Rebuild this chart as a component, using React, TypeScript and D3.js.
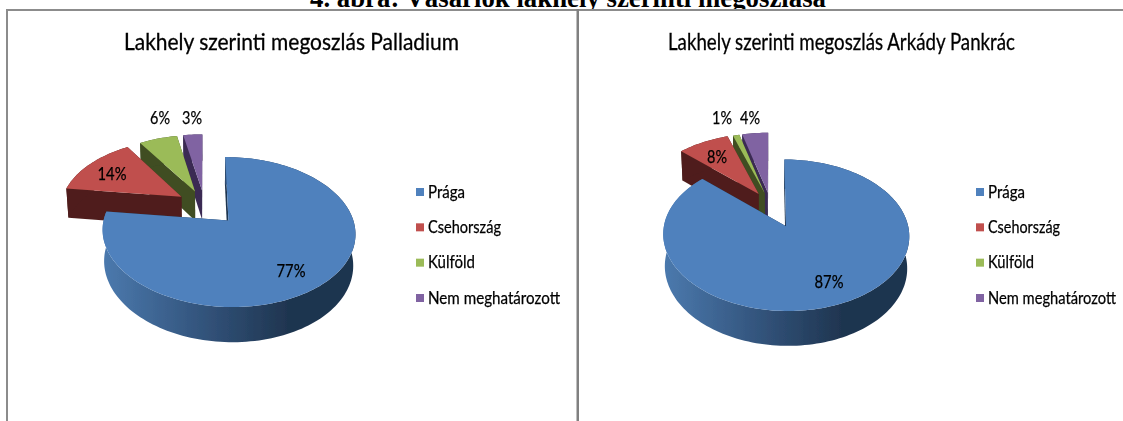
import React from "react";
import * as d3 from "d3";

const categories = ["Prága", "Csehország", "Külföld", "Nem meghatározott"];
const palladiumValues = [77, 14, 6, 3];
const arkadyValues = [87, 8, 1, 4];
const heading = "4. ábra: Vásárlók lakhely szerinti megoszlása";
const palladiumTitle = "Lakhely szerinti megoszlás Palladium";
const arkadyTitle = "Lakhely szerinti megoszlás Arkády Pankrác";

const topColors = d3.scaleOrdinal<string, string>().domain(categories).range(["#4f81bd", "#c0504d", "#9bbb59", "#8064a2"]);
const sideColors = d3.scaleOrdinal<string, string>().domain(categories).range(["#1f3550", "#4f1f1d", "#3f4d22", "#3a2b53"]);
const UI = "Lato, 'Open Sans', sans-serif";

type Geo = {
  id: string; cx: number; cy: number; rx: number; ry: number; k: number; depth: number; explode: number[];
  gx: [number, number];
};

function Pie3D({ values, geo, labels }: { values: number[]; geo: Geo; labels: [number, number][] }) {
  const arcs = d3.pie<number>().sort(null).value((d) => d)(values);
  const sx = d3.scaleLinear().domain([-1, 1]).range([-geo.rx, geo.rx]);
  const sz = d3.scaleLinear().domain([-1, 1]).range([-geo.ry, geo.ry]);
  const project = (x: number, z: number, low: boolean): [number, number] => {
    const s = 1 / (1 - geo.k * z);
    const shrink = low ? 0.985 : 1;
    return [geo.cx + sx(x) * s * shrink, geo.cy + sz(z) * s * shrink + (low ? geo.depth * s : 0)];
  };
  const line = d3.line();
  const slices = arcs.map((a, i) => {
    const mid = (a.startAngle + a.endAngle) / 2;
    const ox = geo.explode[i] * Math.sin(mid);
    const oz = -geo.explode[i] * Math.cos(mid);
    const steps = Math.max(4, Math.ceil((a.endAngle - a.startAngle) / 0.03));
    const angles = d3.range(steps + 1).map((j) => a.startAngle + ((a.endAngle - a.startAngle) * j) / steps);
    const rim = (low: boolean) => angles.map((t) => project(ox + Math.sin(t), oz - Math.cos(t), low));
    const apex = (low: boolean) => project(ox, oz, low);
    const topRim = rim(false);
    const lowRim = rim(true);
    return {
      i,
      cat: categories[i],
      top: line([apex(false), ...topRim])! + "Z",
      wall: line([...topRim, ...lowRim.slice().reverse()])! + "Z",
      cutA: line([apex(false), topRim[0], lowRim[0], apex(true)])! + "Z",
      cutB: line([apex(false), topRim[steps], lowRim[steps], apex(true)])! + "Z",
    };
  });
  const order = [3, 2, 1, 0];
  return (
    <g>
      <defs>
        <linearGradient id={geo.id} gradientUnits="userSpaceOnUse" x1={geo.gx[0]} x2={geo.gx[1]} y1={0} y2={0}>
          <stop offset="0" stopColor="#4b79ad" />
          <stop offset="0.5" stopColor="#34567f" />
          <stop offset="1" stopColor="#1f3550" />
        </linearGradient>
      </defs>
      {order.map((o) => {
        const s = slices[o];
        const side = sideColors(s.cat);
        return (
          <g key={s.cat}>
            <path d={s.cutB} fill={side} />
            <path d={s.cutA} fill={side} />
            <path d={s.wall} fill={o === 0 ? `url(#${geo.id})` : side} />
            <path d={s.top} fill={topColors(s.cat)} />
          </g>
        );
      })}
      {values.map((v, i) => (
        <text key={i} x={labels[i][0]} y={labels[i][1]} textAnchor="middle" fontFamily={UI} fontSize={17} fill="#000" stroke="#000" strokeWidth={0.25}
          textLength={v >= 10 ? 29 : 20} lengthAdjust="spacingAndGlyphs">
          {v}%
        </text>
      ))}
    </g>
  );
}

function Legend({ x, widths }: { x: number; widths: number[] }) {
  const y = d3.scalePoint<string>().domain(categories).range([192, 298]);
  return (
    <g>
      {categories.map((c, i) => (
        <g key={c}>
          <rect x={x} y={y(c)! - 4} width={8} height={8} fill={topColors(c)} />
          <text x={x + 12} y={y(c)! + 5.5} fontFamily={UI} fontSize={17} fill="#000" stroke="#000" strokeWidth={0.25} textLength={widths[i]} lengthAdjust="spacingAndGlyphs">
            {c}
          </text>
        </g>
      ))}
    </g>
  );
}

const leftGeo: Geo = { id: "gl", cx: 204.5, cy: 205, rx: 120.8, ry: 68.5, k: 0.15, depth: 30, explode: [0.29, 0.23, 0.22, 0.22], gx: [104, 288] };
const rightGeo: Geo = { id: "gr", cx: 770.5, cy: 205, rx: 118, ry: 69.7, k: 0.1155, depth: 31, explode: [0.32, 0.19, 0.18, 0.18], gx: [665, 842] };
const leftLabels: [number, number][] = [[291, 277], [112, 180], [160, 124], [192, 124]];
const rightLabels: [number, number][] = [[829, 288], [717, 163], [722, 124], [750, 124]];

export default function App() {
  return (
    <svg width={1123} height={421} style={{ position: "fixed", left: 0, top: 0, display: "block", background: "#fff" }}>
      <defs>
        <filter id="soft" x="0" y="0" width="100%" height="100%">
          <feGaussianBlur stdDeviation="0.45" />
        </filter>
      </defs>
      <text x={568} y={7} textAnchor="middle" fontFamily="'Liberation Serif', serif" fontWeight="bold" fontSize={26.5} fill="#000" textLength={516} lengthAdjust="spacingAndGlyphs">
        {heading}
      </text>
      <rect x={0} y={9} width={1123} height={412} fill="#fff" />
      <g filter="url(#soft)">
        <rect x={7} y={9} width={1116} height={2} fill="#8c8c8c" />
        <rect x={6} y={9} width={2} height={412} fill="#8c8c8c" />
        <rect x={576.5} y={9} width={2.5} height={412} fill="#808080" />
        <text x={124} y={50} fontFamily={UI} fontSize={22.5} fill="#000" stroke="#000" strokeWidth={0.3} textLength={335} lengthAdjust="spacingAndGlyphs">{palladiumTitle}</text>
        <text x={668} y={50} fontFamily={UI} fontSize={22.5} fill="#000" stroke="#000" strokeWidth={0.3} textLength={347} lengthAdjust="spacingAndGlyphs">{arkadyTitle}</text>
        <Pie3D values={palladiumValues} geo={leftGeo} labels={leftLabels} />
        <Pie3D values={arkadyValues} geo={rightGeo} labels={rightLabels} />
        <Legend x={416} widths={[37, 73, 47, 132]} />
        <Legend x={976} widths={[37, 72, 46, 128]} />
      </g>
    </svg>
  );
}
